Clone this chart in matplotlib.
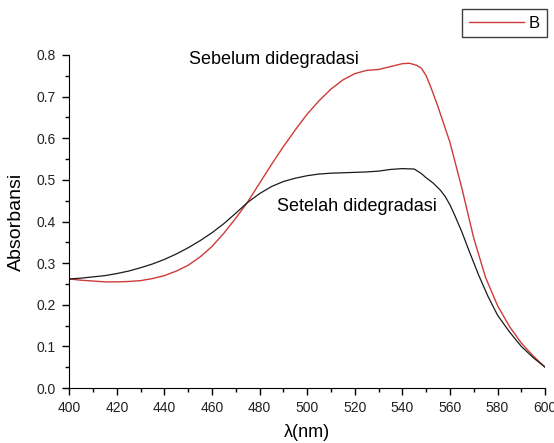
import matplotlib.pyplot as plt
from matplotlib.ticker import MultipleLocator

plt.rcParams['font.family'] = ['Liberation Sans', 'DejaVu Sans']

# wavelength (nm) and absorbance
wl_a = [400, 405, 410, 415, 420, 425, 430, 435, 440, 445, 450, 455, 460, 465, 470, 475,
        480, 485, 490, 495, 500, 505, 510, 515, 520, 525, 530, 535, 540, 543, 546, 548,
        550, 552, 555, 560, 565, 570, 575, 580, 585, 590, 595, 600]
sebelum = [0.262, 0.259, 0.257, 0.255, 0.255, 0.256, 0.258, 0.263, 0.270, 0.281, 0.295,
           0.315, 0.340, 0.372, 0.408, 0.447, 0.492, 0.537, 0.580, 0.620, 0.658, 0.690,
           0.718, 0.740, 0.755, 0.763, 0.765, 0.772, 0.779, 0.780, 0.775, 0.768, 0.750,
           0.722, 0.675, 0.590, 0.480, 0.360, 0.265, 0.198, 0.148, 0.108, 0.077, 0.050]

wl_b = [400, 405, 410, 415, 420, 425, 430, 435, 440, 445, 450, 455, 460, 465, 470, 475,
        480, 485, 490, 495, 500, 505, 510, 515, 520, 525, 530, 535, 540, 545, 548, 550,
        553, 556, 558, 560, 562, 565, 568, 572, 576, 580, 585, 590, 595, 600]
setelah = [0.262, 0.264, 0.267, 0.270, 0.275, 0.281, 0.289, 0.298, 0.309, 0.322, 0.337,
           0.354, 0.373, 0.395, 0.420, 0.446, 0.467, 0.484, 0.496, 0.504, 0.510, 0.514,
           0.516, 0.517, 0.518, 0.519, 0.521, 0.525, 0.527, 0.526, 0.515, 0.505, 0.492,
           0.475, 0.460, 0.440, 0.415, 0.375, 0.330, 0.272, 0.220, 0.175, 0.135, 0.100,
           0.073, 0.050]

fig = plt.figure(figsize=(5.54, 4.43), dpi=100)
ax = fig.add_axes([0.125, 0.124, 0.859, 0.752])

red, = ax.plot(wl_a, sebelum, color='#cf3a3a', linewidth=1.0, label='B')
ax.plot(wl_b, setelah, color='#1a1a1a', linewidth=0.9)

ax.set_xlim(400, 600)
ax.set_ylim(0, 0.8)
ax.xaxis.set_major_locator(MultipleLocator(20))
ax.xaxis.set_minor_locator(MultipleLocator(10))
ax.yaxis.set_major_locator(MultipleLocator(0.1))
ax.yaxis.set_minor_locator(MultipleLocator(0.05))
ax.yaxis.set_major_formatter(plt.FuncFormatter(lambda v, p: f'{v:.1f}'))

for s in ['top', 'right']:
    ax.spines[s].set_visible(False)
ax.tick_params(which='major', direction='out', length=5, width=1, labelsize=10,
               labelcolor='#222222')
ax.tick_params(which='minor', direction='out', length=3, width=1)
ax.tick_params(axis='y', pad=4.5)
ax.tick_params(axis='x', pad=4)

ax.set_xlabel('λ(nm)', fontsize=13)
ax.set_ylabel('Absorbansi', fontsize=14)
ax.xaxis.set_label_coords(0.5, -0.108)
ax.yaxis.set_label_coords(-0.093, 0.5)

ax.text(486, 0.79, 'Sebelum didegradasi', fontsize=13, ha='center', va='center',
        clip_on=False)
ax.text(521, 0.435, 'Setelah didegradasi', fontsize=13, ha='center', va='center')

leg = fig.legend(handles=[red], loc='upper right', bbox_to_anchor=(0.987, 0.980),
                 borderaxespad=0, fancybox=False, edgecolor='#404040', framealpha=1,
                 fontsize=12, handlelength=3.3, handletextpad=0.3, borderpad=0.4)
leg.get_frame().set_linewidth(1.0)

fig.savefig('out.png', dpi=100)
